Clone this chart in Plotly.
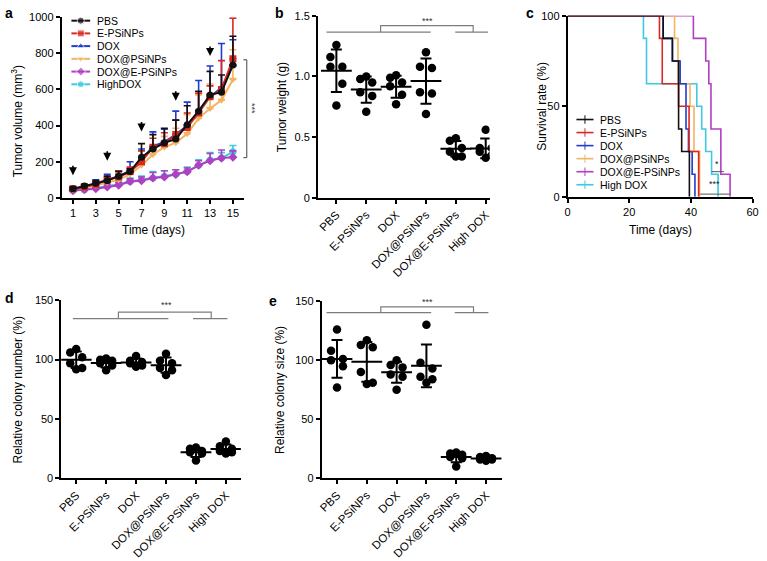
import numpy as np
import plotly.graph_objects as go

W, H = 767, 561
FONT = "Liberation Sans, Arial, Helvetica, sans-serif"

GROUPS = ["PBS", "E-PSiNPs", "DOX", "DOX@PSiNPs", "DOX@E-PSiNPs", "High DOX"]
LEGEND_A = ["PBS", "E-PSiNPs", "DOX", "DOX@PSiNPs", "DOX@E-PSiNPs", "HighDOX"]
COLORS = ["#111111", "#d9281f", "#1f3bd1", "#f3b45f", "#b13fc2", "#3ec9e0"]
SYMBOLS = ["circle", "square", "triangle-up", "triangle-down", "diamond", "circle"]

# a: tumour volume (mm3), mean and upper error bar
DAYS = list(range(1, 16))
DAY_TICKS = [1, 3, 5, 7, 9, 11, 13, 15]
VOL_PBS = [50, 65, 80, 95, 120, 145, 225, 270, 305, 325, 405, 480, 570, 585, 735]
ERR_PBS = [10, 10, 15, 25, 25, 15, 75, 80, 80, 105, 105, 110, 130, 95, 160]
VOL_EPS = [50, 60, 75, 100, 115, 145, 200, 280, 300, 350, 390, 470, 560, 600, 770]
ERR_EPS = [10, 10, 10, 10, 35, 25, 60, 50, 60, 80, 80, 110, 60, 160, 225]
VOL_DOX = [45, 60, 80, 100, 120, 150, 210, 285, 310, 350, 400, 480, 560, 610, 735]
ERR_DOX = [10, 10, 20, 30, 30, 50, 60, 80, 70, 130, 130, 170, 170, 245, 140]
VOL_DOXP = [45, 55, 70, 85, 100, 130, 180, 240, 280, 305, 355, 440, 495, 540, 655]
ERR_DOXP = [5, 10, 15, 25, 30, 35, 50, 50, 60, 80, 105, 130, 135, 60, 165]
VOL_DOXE = [40, 45, 50, 60, 70, 90, 95, 110, 115, 130, 145, 180, 205, 220, 225]
ERR_DOXE = [10, 10, 15, 15, 15, 15, 20, 30, 35, 25, 20, 25, 40, 45, 35]
VOL_HIGH = [40, 45, 55, 65, 75, 90, 100, 110, 120, 130, 145, 180, 210, 220, 255]
ERR_HIGH = [10, 10, 15, 15, 15, 20, 20, 35, 30, 25, 25, 30, 40, 30, 35]
ARROW_DAYS = [1, 4, 7, 10, 13]
ARROW_TIPS = [125, 205, 367, 537, 785]

# b: tumour weight (g)
WT_PBS = [1.26, 1.16, 1.08, 1.08, 0.94, 0.76]
WT_EPS = [1.00, 0.98, 0.95, 0.87, 0.84, 0.71]
WT_DOX = [1.01, 0.99, 0.95, 0.92, 0.85, 0.77]
WT_DOXP = [1.20, 1.08, 1.07, 0.87, 0.86, 0.69]
WT_DOXE = [0.49, 0.47, 0.41, 0.38, 0.34, 0.34]
WT_HIGH = [0.56, 0.41, 0.41, 0.38, 0.35, 0.33]
WT_TICKS = [0, 0.5, 1.0, 1.5]
WT_LABELS = ["0", "0.5", "1.0", "1.5"]

# c: day of death, 8 mice per group
DEATH_PBS = [31, 34, 36, 36, 36, 37, 39.5, 39.5]
DEATH_EPS = [29.8, 30.7, 30.7, 36, 39.4, 39.4, 42.5, 42.5]
DEATH_DOX = [31, 34, 36.5, 38.4, 38.4, 39.2, 40.4, 41.3]
DEATH_DOXP = [34.7, 35.8, 35.8, 39.7, 41, 41, 42.8, 42.8]
DEATH_DOXE = [40.8, 44.8, 45.8, 46.5, 46.5, 49.7, 49.7, 52.7]
DEATH_HIGH = [24.6, 25.6, 25.6, 41.9, 43.5, 44.8, 46.7, 48.8]

# d: relative colony number (%)
NUM_PBS = [109, 106, 102, 97, 93, 92]
NUM_EPS = [101, 100, 99, 97, 95, 91]
NUM_DOX = [103, 99, 98, 97, 95, 94]
NUM_DOXP = [105, 99, 97, 93, 91, 87]
NUM_DOXE = [26, 25, 23, 22, 21, 15]
NUM_HIGH = [31, 27, 25, 23, 22, 21]

# e: relative colony size (%)
SIZE_PBS = [126, 108, 101, 100, 95, 77]
SIZE_EPS = [117, 113, 111, 90, 81, 80]
SIZE_DOX = [100, 96, 94, 88, 86, 75]
SIZE_DOXP = [130, 98, 93, 86, 84, 81]
SIZE_DOXE = [22, 21, 20, 18, 17, 10]
SIZE_HIGH = [19, 18, 17, 16, 16, 15]

JITTER = np.array([0.0, -0.2, 0.2, -0.2, 0.2, 0.0])
DRAW_ORDER = [5, 4, 3, 2, 1, 0]  # black ends up on top

fig = go.Figure()


def ax(n):
    return ("x" if n == 1 else f"x{n}"), ("y" if n == 1 else f"y{n}")


def frame(x0, x1, y0, y1):
    return [x0 / W, x1 / W], [1 - y1 / H, 1 - y0 / H]


# ---- a: growth curves
vols = [VOL_PBS, VOL_EPS, VOL_DOX, VOL_DOXP, VOL_DOXE, VOL_HIGH]
errs = [ERR_PBS, ERR_EPS, ERR_DOX, ERR_DOXP, ERR_DOXE, ERR_HIGH]
for i in DRAW_ORDER:
    fig.add_trace(go.Scatter(
        x=DAYS, y=vols[i], mode="lines+markers", name=LEGEND_A[i],
        line=dict(color=COLORS[i], width=2),
        marker=dict(symbol=SYMBOLS[i], size=7, color=COLORS[i]),
        error_y=dict(type="data", symmetric=False, array=errs[i],
                     arrayminus=[0] * len(DAYS), width=3.5, thickness=1.6,
                     color=COLORS[i]),
        xaxis="x", yaxis="y", showlegend=False,
    ))
for d, tip in zip(ARROW_DAYS, ARROW_TIPS):
    fig.add_annotation(x=d, y=tip, xref="x", yref="y", text="", showarrow=True,
                       ax=0, ay=-11, arrowhead=2, arrowsize=1, arrowwidth=1.6,
                       arrowcolor="black")

# ---- c: Kaplan-Meier steps
deaths = [DEATH_PBS, DEATH_EPS, DEATH_DOX, DEATH_DOXP, DEATH_DOXE, DEATH_HIGH]
for i in DRAW_ORDER:
    t, c = np.unique(np.array(deaths[i], float), return_counts=True)
    surv = 100 * (len(deaths[i]) - np.cumsum(c)) / len(deaths[i])
    fig.add_trace(go.Scatter(
        x=np.concatenate([[0], t]), y=np.concatenate([[100], surv]),
        mode="lines", line=dict(color=COLORS[i], width=1.6, shape="hv"),
        xaxis="x3", yaxis="y3", showlegend=False,
    ))


# ---- b, d, e: scatter dot plots with mean +/- SD
def dot_panel(n, groups):
    xa, ya = ax(n)
    for i, vals in enumerate(groups):
        v = np.sort(np.array(vals, float))[::-1]
        fig.add_trace(go.Scatter(
            x=i + JITTER[:len(v)], y=v, mode="markers",
            marker=dict(size=8.5, color="black"),
            xaxis=xa, yaxis=ya, showlegend=False,
        ))
        fig.add_trace(go.Scatter(
            x=[i], y=[v.mean()], mode="markers",
            marker=dict(symbol="line-ew", size=22, color="black",
                        line=dict(width=2, color="black")),
            error_y=dict(type="data", array=[v.std(ddof=1)], width=5.5,
                         thickness=2, color="black"),
            xaxis=xa, yaxis=ya, showlegend=False,
        ))


dot_panel(2, [WT_PBS, WT_EPS, WT_DOX, WT_DOXP, WT_DOXE, WT_HIGH])
dot_panel(4, [NUM_PBS, NUM_EPS, NUM_DOX, NUM_DOXP, NUM_DOXE, NUM_HIGH])
dot_panel(5, [SIZE_PBS, SIZE_EPS, SIZE_DOX, SIZE_DOXP, SIZE_DOXE, SIZE_HIGH])

# significance brackets (level, top, left span, right span, joins, star pos)
SIG = {
    2: (1.366, 1.419, (-0.33, 3.16), (3.98, 5.08), (1.48, 4.58), (3.04, 1.46)),
    4: (134.6, 140.1, (-0.11, 3.08), (3.90, 5.05), (1.41, 4.51), (3.02, 146.4)),
    5: (140.3, 145.3, (-0.35, 3.16), (3.95, 5.08), (1.47, 4.58), (3.04, 149.2)),
}
for n, (lev, top, lspan, rspan, join, star) in SIG.items():
    xa, ya = ax(n)
    for span in (lspan, rspan):
        fig.add_shape(type="line", xref=xa, yref=ya, x0=span[0], x1=span[1],
                      y0=lev, y1=lev, line=dict(color="#7d7d7d", width=1.2))
    fig.add_shape(type="path", xref=xa, yref=ya,
                  path=f"M{join[0]},{lev} L{join[0]},{top} L{join[1]},{top} L{join[1]},{lev}",
                  line=dict(color="#7d7d7d", width=1.2))
    fig.add_annotation(x=star[0], y=star[1], xref=xa, yref=ya, text="***",
                       showarrow=False, font=dict(size=9, color="#333"))

# c significance marks
fig.add_shape(type="line", xref="x3", yref="y3", x0=46.7, x1=50.7, y0=13.9, y1=13.9,
              line=dict(color="#555", width=1))
fig.add_shape(type="line", xref="x3", yref="y3", x0=43.0, x1=52.6, y0=1.5, y1=1.5,
              line=dict(color="#555", width=1))
fig.add_annotation(x=48.6, y=18, xref="x3", yref="y3", text="*", showarrow=False,
                   font=dict(size=9, color="#222"))
fig.add_annotation(x=47.6, y=7.2, xref="x3", yref="y3", text="***", showarrow=False,
                   font=dict(size=9, color="#222"))

# ---- overlay in pixel units: legends, titles, panel letters
for k, i in enumerate(range(6)):
    y = 15 + 13 * k
    fig.add_trace(go.Scatter(
        x=[68.3, 77.8, 87.3], y=[y] * 3, mode="lines+markers",
        line=dict(color=COLORS[i], width=2),
        marker=dict(symbol=SYMBOLS[i], size=[0, 7, 0], color=COLORS[i]),
        xaxis="x6", yaxis="y6", showlegend=False, hoverinfo="skip",
    ))
    fig.add_annotation(x=91.7, y=y, xref="x6", yref="y6", text=LEGEND_A[i],
                       xanchor="left", showarrow=False, font=dict(size=10.5))
    y = 116 + 13.33 * k
    fig.add_trace(go.Scatter(
        x=[580, 588.6, 597.3], y=[y] * 3, mode="lines+markers",
        line=dict(color=COLORS[i], width=1.6),
        marker=dict(symbol="line-ns", size=[0, 6, 0],
                    line=dict(color=COLORS[i], width=1.4)),
        xaxis="x6", yaxis="y6", showlegend=False, hoverinfo="skip",
    ))
    fig.add_annotation(x=601.7, y=y, xref="x6", yref="y6", text=GROUPS[i],
                       xanchor="left", showarrow=False, font=dict(size=10.5))

fig.add_shape(type="path", xref="x6", yref="y6",
              path="M242.5,55 L246,55 L246,155 L242.5,155",
              line=dict(color="#444", width=1))
fig.add_annotation(x=252, y=105, xref="x6", yref="y6", text="***", textangle=90,
                   showarrow=False, font=dict(size=9, color="#333"))

TITLES = [
    ("Tumor volume (mm<sup>3</sup>)", 14, 118, -90),
    ("Time (days)", 151, 229, 0),
    ("Tumor weight (g)", 281, 103, -90),
    ("Survival rate (%)", 545, 102, -90),
    ("Time (days)", 665, 229, 0),
    ("Relative colony number (%)", 14, 392, -90),
    ("Relative colony size (%)", 279, 392, -90),
]
for text, x, y, ang in TITLES:
    fig.add_annotation(x=x, y=y, xref="x6", yref="y6", text=text, textangle=ang,
                       showarrow=False, font=dict(size=12))
for text, x, y in [("a", 5, 7), ("b", 279, 7), ("c", 533, 7), ("d", 6, 298), ("e", 273, 301)]:
    fig.add_annotation(x=x, y=y, xref="x6", yref="y6", text=f"<b>{text}</b>",
                       showarrow=False, font=dict(size=14))

# ---- axes
AXIS = dict(showline=True, linecolor="black", linewidth=1.6, ticks="outside",
            ticklen=4, tickwidth=1.6, tickcolor="black", showgrid=False,
            zeroline=False, tickfont=dict(size=11, color="black"),
            fixedrange=True)
BOXES = {
    1: (58.3, 243.5, 11.5, 196),
    2: (318, 492, 10, 196),
    3: (571, 758.5, 10, 195),
    4: (58, 240, 300.7, 482.7),
    5: (321.7, 505, 301.7, 482.7),
}
XRANGES = {1: [0, 16], 2: [-0.62, 5.13], 3: [0, 60], 4: [-0.5, 5.5], 5: [-0.52, 5.55]}
YRANGES = {1: [0, 1000], 2: [0, 1.5], 3: [0, 100], 4: [0, 150], 5: [0, 150]}
layout = {}
for n, box in BOXES.items():
    dx, dy = frame(*box)
    xa, ya = ax(n)
    xkey = "xaxis" if n == 1 else f"xaxis{n}"
    ykey = "yaxis" if n == 1 else f"yaxis{n}"
    layout[xkey] = dict(AXIS, domain=dx, range=XRANGES[n], anchor=ya)
    layout[ykey] = dict(AXIS, domain=dy, range=YRANGES[n], anchor=xa)
    if n in (2, 4, 5):
        layout[xkey].update(tickmode="array", tickvals=list(range(6)),
                            ticktext=GROUPS, tickangle=-45,
                            tickfont=dict(size=11.5, color="black"))
layout["xaxis"].update(tickmode="array", tickvals=DAY_TICKS)
layout["yaxis"].update(tickmode="array", tickvals=[0, 200, 400, 600, 800, 1000])
layout["yaxis2"].update(tickmode="array", tickvals=WT_TICKS, ticktext=WT_LABELS)
layout["xaxis3"].update(tickmode="array", tickvals=[0, 20, 40, 60])
layout["yaxis3"].update(tickmode="array", tickvals=[0, 50, 100])
layout["yaxis4"].update(tickmode="array", tickvals=[0, 50, 100, 150])
layout["yaxis5"].update(tickmode="array", tickvals=[0, 50, 100, 150])
layout["xaxis6"] = dict(domain=[0, 1], range=[0, W], visible=False, anchor="y6",
                        fixedrange=True)
layout["yaxis6"] = dict(domain=[0, 1], range=[H, 0], visible=False, anchor="x6",
                        fixedrange=True)

fig.update_layout(
    **layout,
    width=W, height=H,
    margin=dict(l=0, r=0, t=0, b=0),
    paper_bgcolor="white", plot_bgcolor="rgba(0,0,0,0)",
    font=dict(family=FONT, color="black"),
    showlegend=False,
)
# the page body has a default 8px margin; drop it so the figure sits at 0,0
fig.write_html("out.html", config={"displayModeBar": False},
               post_script="document.body.style.margin = '0';")
